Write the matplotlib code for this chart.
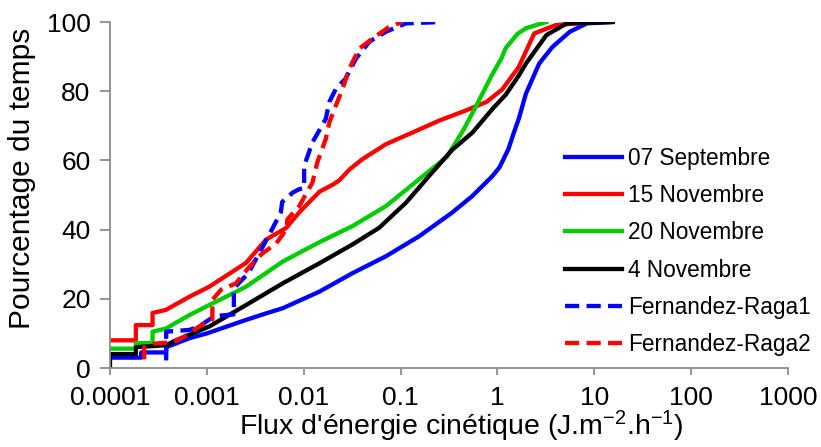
import matplotlib
matplotlib.use("Agg")
import matplotlib.pyplot as plt

plt.rcParams['font.family'] = ['Liberation Sans', 'DejaVu Sans']
plt.rcParams['mathtext.default'] = 'regular'

# cumulative time percentage vs kinetic energy flux
sept07_x = [1e-4, 2.1e-4, 2.1e-4, 3.8e-4, 3.8e-4, 6.6e-4, 0.001, 0.00254, 0.0041, 0.0061,
            0.0146, 0.0318, 0.0707, 0.156, 0.34, 0.55, 0.89, 1.05, 1.3, 1.46, 1.66, 1.97,
            2.7, 3.7, 5.6, 8.4, 15.5]
sept07_y = [3, 3, 4.5, 4.5, 6, 8.6, 10, 13.9, 15.8, 17.3,
            22.1, 27.4, 32.3, 38.1, 44.9, 49.7, 55.5, 58, 63.3, 67.6, 72, 79.3,
            88, 92.8, 97.2, 99.6, 100]

nov15_x = [1e-4, 1.85e-4, 1.85e-4, 2.75e-4, 2.75e-4, 3.78e-4, 6.6e-4, 0.00106, 0.00254,
           0.00408, 0.0066, 0.009, 0.0146, 0.02, 0.0232, 0.03, 0.0406, 0.0707, 0.134, 0.25,
           0.47, 0.77, 1.12, 1.66, 2.4, 4.0, 10]
nov15_y = [8, 8, 12.4, 12.4, 15.9, 16.8, 20.6, 23.5, 30.4,
           37.1, 40.5, 45, 51, 53, 54.2, 57.5, 60.4, 64.7, 68.1, 71.5,
           74.4, 76.9, 80.5, 87, 96.7, 99.1, 100]

nov20_x = [1e-4, 1.85e-4, 1.85e-4, 2.75e-4, 2.75e-4, 3.78e-4, 6.6e-4, 0.00106, 0.00254,
           0.0061, 0.0146, 0.0318, 0.0707, 0.156, 0.3, 0.45, 0.61, 0.89, 1.1, 1.22, 1.6,
           1.97, 3.2]
nov20_y = [5.6, 5.6, 7.2, 7.2, 10.5, 11.4, 15.3, 18.2, 23.5,
           30.8, 36.4, 41, 46.8, 54.6, 61, 69, 76, 85, 89.5, 92.5, 96.5,
           98.2, 100]

nov04_x = [1e-4, 1e-4, 1.85e-4, 1.85e-4, 3.78e-4, 4.8e-4, 0.00106, 0.00254, 0.0061, 0.0146,
           0.0318, 0.06, 0.114, 0.197, 0.34, 0.55, 0.89, 1.22, 1.66, 1.97, 3.2, 5.2, 15.5]
nov04_y = [0, 4, 4, 6, 6.6, 8, 12, 18.2, 24.5, 30.3,
           35.7, 40.5, 47.8, 55.5, 63, 68, 74.9, 79, 84.5, 88, 96.2, 99.6, 100]

fr1_x = [3.8e-4, 3.8e-4, 6.6e-4, 0.00083, 0.0012, 0.0019, 0.0019, 0.0027, 0.0036, 0.0048,
         0.0058, 0.006, 0.0077, 0.009, 0.0101, 0.0101, 0.0123, 0.0169, 0.0184, 0.0215,
         0.027, 0.0346, 0.0476, 0.0707, 0.114, 0.26]
fr1_y = [2.2, 10.5, 11, 12, 15, 15.5, 23, 27.5, 34, 40.5,
         45, 48, 50.7, 51.7, 52, 58.4, 65.2, 72, 76.9, 80.7,
         83.6, 89.4, 94.3, 97.2, 99.6, 100]

fr2_x = [2.25e-4, 2.25e-4, 2.8e-4, 4.5e-4, 5.8e-4, 8.3e-4, 0.00098, 0.00114, 0.00114, 0.0014,
         0.002, 0.0027, 0.0037, 0.0052, 0.0066, 0.0068, 0.009, 0.0123, 0.0138, 0.0169,
         0.0184, 0.0215, 0.0252, 0.0295, 0.0374, 0.0513, 0.0762, 0.104]
fr2_y = [2.5, 6, 7, 7.5, 9, 12, 13, 14, 19.7, 22.6,
         24.5, 29, 33, 36, 40, 43, 46.8, 53.6, 59.4, 66.2,
         71, 75.9, 80.7, 86.5, 92.3, 95.2, 98.6, 100]

xticks = [0.0001, 0.001, 0.01, 0.1, 1, 10, 100, 1000]
xtick_labels = ['0.0001', '0.001', '0.01', '0.1', '1', '10', '100', '1000']
yticks = [0, 20, 40, 60, 80, 100]

fig = plt.figure(figsize=(8.21, 4.47), dpi=100)
ax = fig.add_axes([110 / 821, 79 / 447, 678 / 821, 346 / 447])

lw = 3.1
ax.plot(sept07_x, sept07_y, color='#0000ff', lw=lw, label='07 Septembre')
ax.plot(nov15_x, nov15_y, color='#ff0000', lw=lw, label='15 Novembre')
ax.plot(nov20_x, nov20_y, color='#00cc00', lw=lw, label='20 Novembre')
ax.plot(nov04_x, nov04_y, color='#000000', lw=lw, label='4 Novembre')
ax.plot(fr1_x, fr1_y, color='#0000ff', lw=lw, dashes=(3.3, 1.7), label='Fernandez-Raga1')
ax.plot(fr2_x, fr2_y, color='#ff0000', lw=lw, dashes=(3.3, 1.7), label='Fernandez-Raga2')

ax.set_xscale('log')
ax.set_xlim(1e-4, 1000)
ax.set_ylim(0, 100)
ax.set_xticks(xticks)
ax.set_xticklabels(xtick_labels)
ax.minorticks_off()
ax.set_yticks(yticks)

for side in ['top', 'right']:
    ax.spines[side].set_visible(False)
for side in ['left', 'bottom']:
    ax.spines[side].set_color('#8c8c8c')
    ax.spines[side].set_linewidth(1.3)
ax.tick_params(axis='both', colors='#8c8c8c', width=1.3, labelcolor='black', labelsize=19)
ax.tick_params(axis='y', length=7, pad=7)
ax.tick_params(axis='x', length=5, pad=8)

fig.text(22 / 821, 1 - 178 / 447, 'Pourcentage du temps', rotation=90,
         ha='center', va='center', fontsize=21.5)
fig.text(461 / 821, 3 / 447, "Flux d'énergie cinétique (J.m$^{-2}$.h$^{-1}$)",
         ha='center', va='bottom', fontsize=20.5)

ax.legend(loc='center left', bbox_to_anchor=(565 / 821, 1 - 251.5 / 447),
          bbox_transform=fig.transFigure, frameon=False, fontsize=16.3,
          borderaxespad=0, borderpad=0, handlelength=2.52, handletextpad=0.25,
          labelspacing=0.63)

fig.savefig('out.png', dpi=100)
